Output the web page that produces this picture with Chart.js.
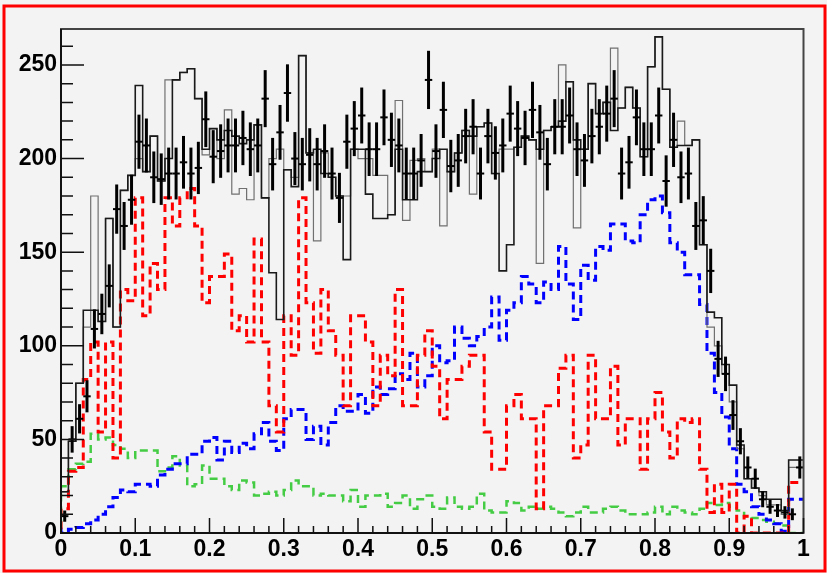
<!DOCTYPE html>
<html>
<head>
<meta charset="utf-8">
<title>Histogram</title>
<script src="https://cdn.jsdelivr.net/npm/chart.js@4/dist/chart.umd.min.js"></script>
<style>
  html, body { margin: 0; padding: 0; background: #f3f3f3; }
  canvas { display: block; }
</style>
</head>
<body>
<canvas id="hist" width="827" height="573"></canvas>
<script>
// 100 bins between 0 and 1
const xMin = 0;
const xMax = 1;
const nBins = 100;
const binWidth = (xMax - xMin) / nBins;

const xTickLabels = ['0', '0.1', '0.2', '0.3', '0.4', '0.5', '0.6', '0.7', '0.8', '0.9', '1'];
const yTickValues = [0, 50, 100, 150, 200, 250];

// measured counts (drawn with sqrt(N) error bars)
const dataCounts = [
  9, 50, 61, 73, 109, 117, 132, 173, 164, 178, 209, 207, 190, 189, 192, 192, 198,
  192, 195, 221, 201, 204, 207, 207, 211, 205, 207, 232, 197, 214, 235, 200, 197, 202,
  197, 204, 192, 179, 209, 216, 223, 205, 205, 222, 210, 207, 192, 192, 199, 242, 204,
  226, 196, 199, 212, 217, 192, 212, 203, 207, 224, 216, 211, 226, 214, 197, 217, 217,
  223, 205, 199, 212, 217, 224, 232, 192, 198, 222, 205, 205, 223, 188, 210, 190, 192,
  164, 167, 140, 93, 85, 63, 49, 35, 29, 18, 14, 12, 11, 10, 35
];

// total prediction, dark outline
const totalDark = [
  3, 22, 49, 80, 119, 119, 113, 168, 110, 183, 191, 239, 193, 212, 188, 200, 242,
  246, 248, 232, 205, 216, 210, 215, 212, 208, 210, 218, 179, 139, 114, 194, 185, 255,
  203, 205, 192, 190, 180, 146, 205, 205, 181, 168, 168, 170, 205, 178, 178, 193, 193,
  200, 205, 193, 203, 215, 212, 217, 219, 192, 140, 154, 206, 212, 210, 205, 215, 217,
  220, 241, 210, 205, 240, 224, 230, 215, 227, 238, 227, 201, 249, 265, 237, 206, 207,
  207, 210, 154, 118, 115, 90, 79, 47, 29, 24, 22, 18, 18, 12, 39
];

// alternative total prediction, grey outline
const totalGrey = [
  3, 22, 49, 80, 110, 180, 113, 168, 110, 183, 191, 200, 193, 212, 188, 242, 242,
  246, 248, 232, 202, 216, 200, 226, 181, 184, 178, 218, 179, 200, 205, 194, 190, 255,
  203, 156, 203, 190, 180, 180, 205, 200, 200, 191, 191, 170, 231, 167, 199, 200, 193,
  205, 164, 193, 203, 215, 181, 217, 219, 192, 205, 205, 206, 212, 210, 144, 215, 217,
  250, 241, 163, 205, 240, 224, 230, 259, 227, 238, 227, 201, 249, 265, 237, 206, 220,
  207, 210, 154, 110, 100, 85, 70, 45, 29, 24, 20, 15, 15, 10, 35
];

const redComponent = [
  2, 13, 33, 35, 82, 102, 54, 102, 40, 130, 124, 179, 116, 144, 130, 179, 164,
  179, 184, 164, 123, 137, 137, 149, 108, 116, 102, 157, 102, 68, 54, 116, 95, 179,
  123, 96, 130, 108, 95, 68, 116, 116, 102, 68, 95, 84, 130, 68, 68, 95, 108,
  89, 61, 82, 82, 89, 95, 95, 54, 34, 34, 68, 74, 61, 61, 13, 68, 68,
  88, 95, 40, 47, 95, 61, 61, 89, 47, 61, 61, 34, 61, 75, 54, 40, 61,
  59, 61, 34, 11, 26, 11, 26, 0, 9, 0, 0, 0, 0, 0, 27
];

const blueComponent = [
  3, 0, 2, 3, 5, 7, 10, 14, 19, 23, 22, 26, 26, 25, 31, 34, 37,
  37, 42, 42, 49, 51, 39, 49, 43, 48, 45, 53, 59, 49, 44, 61, 66, 66,
  50, 57, 47, 59, 68, 65, 65, 74, 64, 78, 74, 77, 85, 82, 96, 78, 84,
  100, 91, 92, 110, 104, 100, 105, 110, 126, 103, 119, 123, 137, 133, 123, 134, 130,
  153, 133, 114, 143, 135, 153, 151, 165, 165, 156, 155, 170, 178, 180, 171, 155, 150,
  138, 138, 122, 96, 75, 62, 45, 26, 22, 14, 10, 7, 5, 1, 18
];

const greenComponent = [
  3, 25, 34, 37, 38, 53, 50, 51, 47, 45, 40, 44, 44, 44, 33, 35, 41,
  36, 25, 26, 36, 29, 29, 25, 23, 28, 27, 20, 21, 22, 20, 23, 28, 25,
  25, 20, 21, 20, 20, 17, 23, 14, 20, 20, 21, 14, 16, 20, 13, 18, 20,
  14, 13, 19, 14, 13, 14, 21, 12, 11, 11, 17, 16, 12, 14, 13, 14, 13,
  11, 9, 11, 14, 11, 11, 13, 14, 12, 10, 10, 10, 11, 14, 10, 14, 12,
  11, 10, 13, 16, 15, 16, 14, 12, 9, 8, 7, 6, 5, 4, 0
];

// turn bin contents into step points at the bin edges
function stepPoints(values) {
  const pts = values.map((v, i) => ({ x: xMin + i * binWidth, y: v }));
  pts.push({ x: xMax, y: values[values.length - 1] });
  return pts;
}

function histLine(values, color, width, dash) {
  return {
    data: stepPoints(values),
    borderColor: color,
    borderWidth: width,
    borderDash: dash,
    stepped: 'after',
    pointRadius: 0,
    fill: false,
    tension: 0
  };
}

const labelFont = { family: "'Liberation Sans', Arial, Helvetica, sans-serif", size: 23, weight: 'bold' };

// background, error bars, frame, inside ticks and the red outer border
const histDecor = {
  id: 'histDecor',
  beforeDraw(chart) {
    const { ctx, width, height } = chart;
    ctx.save();
    ctx.fillStyle = '#f3f3f3';
    ctx.fillRect(0, 0, width, height);
    ctx.restore();
  },
  afterDatasetsDraw(chart) {
    const { ctx, chartArea: a, scales: { x, y } } = chart;
    ctx.save();

    // data points with error bars
    ctx.strokeStyle = '#000';
    dataCounts.forEach((n, i) => {
      const lo = xMin + i * binWidth;
      const xc = x.getPixelForValue(lo + binWidth / 2);
      const err = Math.sqrt(n);
      ctx.lineWidth = 3;
      ctx.beginPath();
      ctx.moveTo(xc, y.getPixelForValue(n - err));
      ctx.lineTo(xc, y.getPixelForValue(n + err));
      ctx.stroke();
      ctx.lineWidth = 2;
      ctx.beginPath();
      ctx.moveTo(x.getPixelForValue(lo), y.getPixelForValue(n));
      ctx.lineTo(x.getPixelForValue(lo + binWidth), y.getPixelForValue(n));
      ctx.stroke();
    });

    // frame
    ctx.strokeStyle = '#444';
    ctx.lineWidth = 2;
    ctx.strokeRect(a.left, a.top, a.right - a.left, a.bottom - a.top);

    // axes and ticks
    ctx.strokeStyle = '#111';
    ctx.lineWidth = 2;
    ctx.beginPath();
    ctx.moveTo(a.left, a.top);
    ctx.lineTo(a.left, a.bottom);
    ctx.lineTo(a.right, a.bottom);
    ctx.stroke();

    ctx.lineWidth = 1.5;
    ctx.beginPath();
    for (let k = 0; k <= 26; k++) {
      const v = k * 10;
      const len = v % 50 === 0 ? 23 : 12;
      const py = y.getPixelForValue(v);
      ctx.moveTo(a.left, py);
      ctx.lineTo(a.left + len, py);
    }
    for (let k = 0; k <= 50; k++) {
      const v = k * 0.02;
      const len = k % 5 === 0 ? 15 : 7;
      const px = x.getPixelForValue(v);
      ctx.moveTo(px, a.bottom);
      ctx.lineTo(px, a.bottom - len);
    }
    ctx.stroke();
    ctx.restore();
  },
  afterDraw(chart) {
    const { ctx } = chart;
    ctx.save();
    ctx.strokeStyle = '#ff0000';
    ctx.lineWidth = 3;
    ctx.strokeRect(4, 6, 821, 565);
    ctx.restore();
  }
};

new Chart(document.getElementById('hist'), {
  type: 'line',
  data: {
    datasets: [
      histLine(totalDark, '#1a1a1a', 1.6, []),
      histLine(totalGrey, '#707070', 1.2, []),
      histLine(redComponent, '#ff0000', 3, [8, 5]),
      histLine(blueComponent, '#0000ff', 3, [8, 5]),
      histLine(greenComponent, '#44cc44', 2.5, [8, 5])
    ]
  },
  options: {
    responsive: false,
    animation: false,
    devicePixelRatio: 1,
    layout: { padding: { top: 29, right: 23.5, left: 0, bottom: 0 } },
    plugins: { legend: { display: false }, tooltip: { enabled: false } },
    scales: {
      x: {
        type: 'linear',
        min: xMin,
        max: xMax,
        grid: { display: false, drawTicks: false },
        border: { display: false },
        ticks: {
          stepSize: 0.1,
          autoSkip: false,
          maxRotation: 0,
          padding: 3,
          color: '#000',
          font: labelFont,
          callback: v => xTickLabels[Math.round(v * 10)]
        },
        afterFit: s => { s.height = 40; }
      },
      y: {
        min: 0,
        max: 269.2,
        grid: { display: false, drawTicks: false },
        border: { display: false },
        ticks: {
          stepSize: 50,
          padding: 4,
          color: '#000',
          font: labelFont,
          callback: v => (yTickValues.includes(v) ? String(v) : null)
        },
        afterFit: s => { s.width = 61; }
      }
    }
  },
  plugins: [histDecor]
});
</script>
</body>
</html>
